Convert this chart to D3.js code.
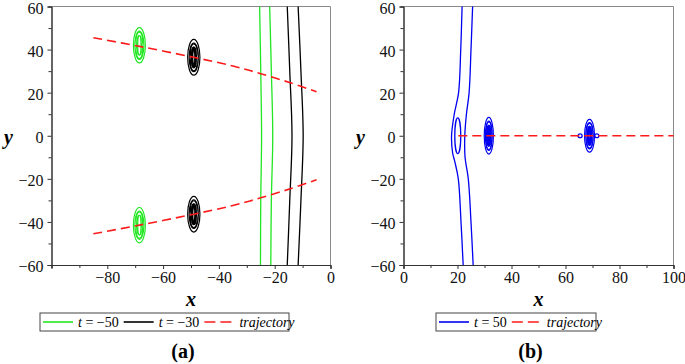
<!DOCTYPE html>
<html><head><meta charset="utf-8">
<script src="https://cdn.jsdelivr.net/npm/d3@7"></script>
<style>body{margin:0;background:#fff}svg{display:block}</style>
</head><body><svg id="c" width="685" height="364"></svg>
<script>
// ---------- data ----------
const yTicks = [-60, -40, -20, 0, 20, 40, 60];
const yMinor = [-50, -30, -10, 10, 30, 50];
const xTicksA = [-80, -60, -40, -20, 0];
const xMinorA = [-100, -90, -70, -50, -30, -10];
const xTicksB = [0, 20, 40, 60, 80, 100];
const xMinorB = [10, 30, 50, 70, 90];

// panel (a): t = -50 (green) and t = -30 (black) contour lines
const greenLineL = [[-25.4, 60], [-25.0, 30], [-24.7, 0], [-25.0, -30], [-25.1, -60]];
const greenLineR = [[-21.8, 60], [-21.2, 30], [-20.7, 0], [-21.2, -30], [-21.4, -60]];
const blackLineL = [[-15.5, 60], [-14.6, 30], [-13.8, 0], [-14.6, -30], [-15.5, -60]];
const blackLineR = [[-11.6, 60], [-10.6, 30], [-9.8, 0], [-10.6, -30], [-11.6, -60]];
const trajTop = [[-85, 45.5], [-68.5, 41.5], [-49, 36.4], [-35, 32.4], [-25, 28.8], [-14.4, 24.6], [-5, 20.4]];
const trajBottom = [[-85, -45.5], [-68.5, -41.5], [-49, -36.4], [-35, -32.4], [-25, -28.8], [-14.4, -24.6], [-5, -20.4]];
// lump centers [x, y, rx, ry]
const greenLumps = [[-68.5, 42, 2.15, 8.2], [-68.5, -41.5, 2.15, 8.2]];
const blackLumps = [[-49, 36.4, 2.2, 8.3], [-49, -36.4, 2.2, 8.3]];

// panel (b): t = 50 (blue)
const blueLineL = [[21.7, 60], [21.2, 40], [20.4, 20], [18.8, 10], [17.8, 0], [18.2, -8], [19.0, -12], [20.3, -20], [21.3, -40], [22.1, -60]];
const blueLineR = [[25.6, 60], [25.0, 40], [24.3, 20], [23.3, 10], [22.7, 0], [22.8, -10], [24.0, -20], [25.0, -40], [25.8, -60]];
const blueLoop = [[20.1, 0, 1.1, 8.3]];
const blueLumps = [[31.6, 0, 1.7, 8.5], [68.9, 0, 1.85, 7.6]];
const blueDots = [[65.4, 0, 0.75, 0.9], [71.6, 0, 0.75, 0.9]];
const trajB = [[20.3, 0], [100, 0]];

// nested ring pattern of a lump, relative to its [rx, ry]: [dx, dy, sx, sy]
const lumpRings = [[0, 0, 1, 1], [0, 0, 0.75, 0.8], [0, 0.3, 0.55, 0.45], [0, -0.3, 0.55, 0.45], [0, 0.35, 0.3, 0.2], [0, -0.35, 0.3, 0.2]];

const GREEN = "#22e622", BLACK = "#000", RED = "#ff1a1a", BLUE = "#0000f0";

// ---------- drawing ----------
const svg = d3.select("#c");
const pTop = 6.5, pBottom = 265;
const y = d3.scaleLinear().domain([-60, 60]).range([pBottom, pTop]);
const SERIF = '"Liberation Serif"';

function panel(x, xt, xm, label) {
  const g = svg.append("g");
  const [x0, x1] = x.range();
  g.append("line").attr("x1", x0).attr("x2", x1).attr("y1", pTop).attr("y2", pTop).attr("stroke", "#888");
  g.append("line").attr("x1", x1).attr("x2", x1).attr("y1", pTop).attr("y2", pBottom).attr("stroke", "#888");
  const fmt = d => d < 0 ? "\u2212" + Math.abs(d) : "" + d;
  const ax = g.append("g").attr("transform", `translate(0,${pBottom})`)
    .call(d3.axisBottom(x).tickValues(xt).tickSize(4).tickPadding(3).tickFormat(fmt));
  const axm = g.append("g").attr("transform", `translate(0,${pBottom})`)
    .call(d3.axisBottom(x).tickValues(xm).tickSize(3).tickFormat(""));
  const ay = g.append("g").attr("transform", `translate(${x0},0)`)
    .call(d3.axisLeft(y).tickValues(yTicks).tickSize(4).tickPadding(4).tickFormat(fmt));
  const aym = g.append("g").attr("transform", `translate(${x0},0)`)
    .call(d3.axisLeft(y).tickValues(yMinor).tickSize(3).tickFormat(""));
  [ax, axm, ay, aym].forEach(a => {
    a.attr("font-family", null);
    a.select(".domain").attr("stroke", "#333");
    a.selectAll(".tick line").attr("stroke", "#333");
    a.selectAll("text").style("font-family", SERIF).style("font-size", "16px").attr("fill", "#111");
  });
  ay.selectAll("text").attr("dy", "0.42em");
  g.append("text").attr("x", (x0 + x1) / 2).attr("y", 306).attr("text-anchor", "middle")
    .style("font-family", SERIF).style("font-size", "20px").style("font-weight", "bold").style("font-style", "italic").text("x");
  g.append("text").attr("x", x0 - 43).attr("y", 144).attr("text-anchor", "middle")
    .style("font-family", SERIF).style("font-size", "20px").style("font-weight", "bold").style("font-style", "italic").text("y");
  g.append("text").attr("x", (x0 + x1) / 2 - 8).attr("y", 358).attr("text-anchor", "middle")
    .style("font-family", SERIF).style("font-size", "20px").style("font-weight", "bold").text(label);
  return g;
}

const line = (x) => d3.line().x(d => x(d[0])).y(d => y(d[1])).curve(d3.curveCatmullRom);

function drawLumps(g, x, lumps, color, thickCore) {
  lumps.forEach(([cx, cy, rx, ry]) => {
    lumpRings.forEach(([dx, dy, sx, sy]) => {
      g.append("ellipse")
        .attr("cx", x(cx + dx * rx)).attr("cy", y(cy + dy * ry))
        .attr("rx", Math.abs(x(cx + sx * rx) - x(cx))).attr("ry", Math.abs(y(cy + sy * ry) - y(cy)))
        .attr("fill", "none").attr("stroke", color).attr("stroke-width", 1.2);
    });
    g.append("ellipse")
      .attr("cx", x(cx)).attr("cy", y(cy))
      .attr("rx", Math.abs(x(cx + 0.28 * rx) - x(cx))).attr("ry", Math.abs(y(cy + 0.55 * ry) - y(cy)))
      .attr("fill", "#fff").attr("stroke", color).attr("stroke-width", thickCore ? 2.6 : 1.3);
  });
}

function drawEllipses(g, x, arr, color) {
  arr.forEach(([cx, cy, rx, ry]) => {
    g.append("ellipse").attr("cx", x(cx)).attr("cy", y(cy))
      .attr("rx", Math.abs(x(cx + rx) - x(cx))).attr("ry", Math.abs(y(cy + ry) - y(cy)))
      .attr("fill", "none").attr("stroke", color).attr("stroke-width", 1.3);
  });
}

// panel (a)
const xA = d3.scaleLinear().domain([-100, 0]).range([51.5, 330.5]);
const gA = panel(xA, xTicksA, xMinorA, "(a)");
[greenLineL, greenLineR].forEach(d => gA.append("path").attr("d", line(xA)(d)).attr("fill", "none").attr("stroke", GREEN).attr("stroke-width", 1.3));
[blackLineL, blackLineR].forEach(d => gA.append("path").attr("d", line(xA)(d)).attr("fill", "none").attr("stroke", BLACK).attr("stroke-width", 1.3));
drawLumps(gA, xA, greenLumps, GREEN, false);
drawLumps(gA, xA, blackLumps, BLACK, true);
[trajTop, trajBottom].forEach(d => gA.append("path").attr("d", line(xA)(d)).attr("fill", "none").attr("stroke", RED).attr("stroke-width", 1.6).attr("stroke-dasharray", "9,5"));

// panel (b)
const xB = d3.scaleLinear().domain([0, 100]).range([403.5, 673.5]);
const gB = panel(xB, xTicksB, xMinorB, "(b)");
[blueLineL, blueLineR].forEach(d => gB.append("path").attr("d", line(xB)(d)).attr("fill", "none").attr("stroke", BLUE).attr("stroke-width", 1.3));
drawEllipses(gB, xB, blueLoop, BLUE);
drawLumps(gB, xB, blueLumps, BLUE, true);
drawEllipses(gB, xB, blueDots, BLUE);
gB.append("path").attr("d", d3.line().x(d => xB(d[0])).y(d => y(d[1]))(trajB)).attr("fill", "none").attr("stroke", RED).attr("stroke-width", 1.6).attr("stroke-dasharray", "9,5");

// legends
function legend(x0, w, items) {
  const g = svg.append("g");
  g.append("rect").attr("x", x0).attr("y", 313).attr("width", w).attr("height", 18)
    .attr("fill", "#fff").attr("stroke", "#444").attr("stroke-width", 1);
  let cx = x0 + 3;
  items.forEach(it => {
    g.append("line").attr("x1", cx).attr("x2", cx + 30).attr("y1", 322).attr("y2", 322)
      .attr("stroke", it.color).attr("stroke-width", 1.6).attr("stroke-dasharray", it.dash || null);
    const t = g.append("text").attr("x", cx + 35).attr("y", 326.5)
      .style("font-family", SERIF).style("font-size", "14px");
    if (it.t !== undefined) {
      t.append("tspan").style("font-style", "italic").text("t");
      t.append("tspan").text(" = " + it.t);
    } else {
      t.append("tspan").style("font-style", "italic").text(it.label);
    }
    cx += 35 + t.node().getComputedTextLength() + 5;
  });
}
legend(40, 249, [{color: GREEN, t: "\u221250"}, {color: BLACK, t: "\u221230"}, {color: RED, dash: "11,5", label: "trajectory"}]);
legend(436, 160, [{color: BLUE, t: "50"}, {color: RED, dash: "11,5", label: "trajectory"}]);
</script></body></html>
